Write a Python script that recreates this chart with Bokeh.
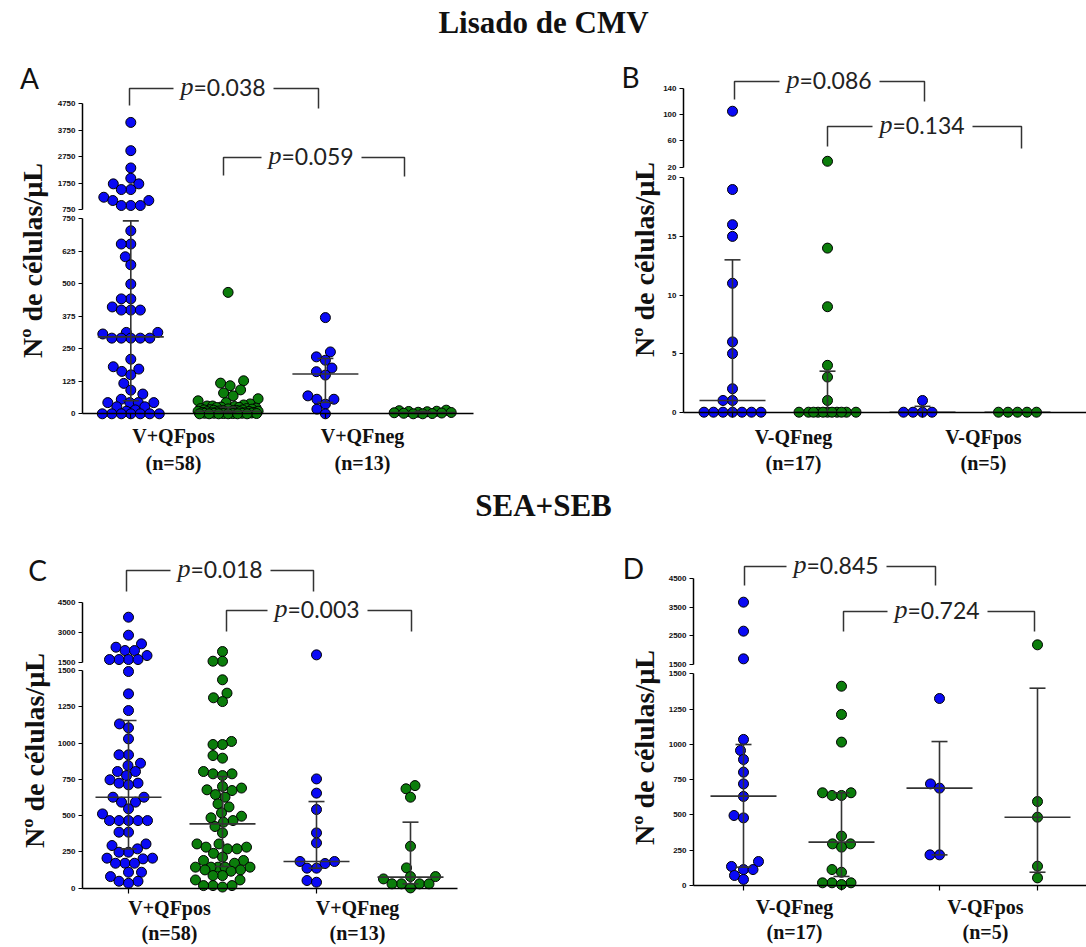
import numpy as np
from bokeh.plotting import figure
from bokeh.models import Range1d, LinearAxis, FixedTicker, Label
from bokeh.embed import file_html
from bokeh.resources import INLINE

# ======================= DATA =======================
section_titles = ["Lisado de CMV", "SEA+SEB"]
y_label = "Nº de células/µL"

# ---- Panel A : Lisado de CMV, V+ ----
A_categories = ["V+QFpos", "V+QFneg"]
A_counts = ["(n=58)", "(n=13)"]
A_qfpos_blue = [4045, 2977, 2323, 1931, 1720, 1720, 1505, 1505, 1214, 1090, 1090, 901, 901, 901,
                704, 653, 653, 604, 573, 499, 442, 442, 411, 399, 399, 399, 313, 313, 307,
                291, 291, 291, 291, 291, 210, 181, 172, 163, 150, 117, 91, 76, 56, 43, 43, 43, 43,
                27, 27, 15, 10, 0, 0, 0, 0, 0, 0, 0]
A_qfpos_green = [467, 127, 118, 108, 92, 80, 69, 58, 50, 43, 38, 34, 30, 30, 28, 26, 25, 24, 22, 20,
                 20, 19, 18, 16, 15, 15, 14, 13, 12, 12, 11, 10, 10, 9, 8, 8, 7, 6, 6, 5,
                 5, 4, 4, 3, 3, 3, 2, 2, 2, 1, 1, 1, 0, 0, 0, 0, 0, 0]
A_qfneg_blue = [370, 238, 219, 206, 176, 162, 149, 69, 56, 56, 37, 18, 0]
A_qfneg_green = [14, 12, 10, 9, 8, 6, 5, 4, 3, 2, 1, 0, 0]
A_median = [296, 10, 153, 5]
A_q1 = [50, 3, 44, 1]
A_q3 = [742, 25, 213, 9]
A_ticks_low = [0, 125, 250, 375, 500, 625, 750]
A_ticks_high = [750, 1750, 2750, 3750, 4750]
A_pvalues = ["0.038", "0.059"]

# ---- Panel B : Lisado de CMV, V- ----
B_categories = ["V-QFneg", "V-QFpos"]
B_counts = ["(n=17)", "(n=5)"]
B_qfneg_blue = [105, 19, 16, 15, 11, 6, 5, 2, 1, 1, 0, 0, 0, 0, 0, 0, 0]
B_qfneg_green = [29, 14, 9, 4, 3, 1, 0, 0, 0, 0, 0, 0, 0, 0, 0, 0, 0]
B_qfpos_blue = [1, 0, 0, 0, 0]
B_qfpos_green = [0, 0, 0, 0, 0]
B_median = [1, 0, 0, 0]
B_q1 = [0, 0, 0, 0]
B_q3 = [13, 3.5, 0.5, 0]
B_ticks_low = [0, 5, 10, 15, 20]
B_ticks_high = [20, 60, 100, 140]
B_pvalues = ["0.086", "0.134"]

# ---- Panel C : SEA+SEB, V+ ----
C_categories = ["V+QFpos", "V+QFneg"]
C_counts = ["(n=58)", "(n=13)"]
C_qfpos_blue = [3750, 2850, 2417, 2250, 2083, 2083, 1833, 1633, 1633, 1633, 1633,
                1493, 1339, 1224, 1132, 1105, 1029, 919, 919, 861, 845, 804, 804, 776, 747,
                724, 724, 712, 627, 627, 593, 593, 547, 512, 466, 466, 466, 466, 466, 386, 386,
                305, 294, 271, 248, 248, 207, 207, 202, 172, 172, 172, 110, 110, 80, 48, 48, 34]
C_qfpos_green = [2033, 1550, 1550,
                 1436, 1344, 1312, 1286, 1011, 990, 990, 914, 896, 804, 788, 788, 776,
                 701, 690, 678, 673, 645, 627, 581, 560, 519, 496, 485, 466, 455, 425, 381,
                 305, 305, 283, 283, 271, 271, 240, 214, 191, 191, 172, 145, 145, 145, 145, 145,
                 126, 126, 117, 87, 87, 57, 57, 18, 18, 18, 8]
C_qfneg_blue = [1867, 753, 655, 542, 381, 312, 184, 184, 170, 138, 138, 53, 41]
C_qfneg_green = [707, 685, 627, 289, 140, 80, 80, 64, 30, 30, 30, 30, 2]
C_median = [627, 443, 184, 76]
C_q1 = [271, 150, 138, 30]
C_q3 = [1155, 770, 597, 455]
C_ticks_low = [0, 250, 500, 750, 1000, 1250, 1500]
C_ticks_high = [1500, 3000, 4500]
C_pvalues = ["0.018", "0.003"]

# ---- Panel D : SEA+SEB, V- ----
D_categories = ["V-QFneg", "V-QFpos"]
D_counts = ["(n=17)", "(n=5)"]
D_qfneg_blue = [3682, 2667, 1698, 1035, 957, 893, 803, 720, 631, 496, 479, 170, 135, 113, 113, 71, 43]
D_qfneg_green = [1412, 1212, 1016, 657, 657, 638, 638, 350, 295, 295, 272, 113, 94, 19, 19, 19, 7]
D_qfpos_blue = [1325, 720, 690, 217, 217]
D_qfpos_green = [2189, 595, 484, 137, 54]
D_median = [633, 307, 690, 484]
D_q1 = [130, 64, 217, 94]
D_q3 = [999, 657, 1020, 1398]
D_ticks_low = [0, 250, 500, 750, 1000, 1250, 1500]
D_ticks_high = [1500, 2500, 3500, 4500]
D_pvalues = ["0.845", "0.724"]

# ======================= LAYOUT / STYLE =======================
W, H = 1086, 947
BLUE, GREEN = "#0a0af5", "#0b7d0b"
LINE = "#333333"

panels = {
    "A": dict(series=[A_qfpos_blue, A_qfpos_green, A_qfneg_blue, A_qfneg_green],
              med=A_median, q1=A_q1, q3=A_q3, tlo=A_ticks_low, thi=A_ticks_high,
              cats=A_categories, counts=A_counts, pv=A_pvalues,
              gx=(130.3, 97.3), yaxis=82, xend=473, lo=(413.3, 218.3), hi=(209.0, 103.3),
              xticks=[1, 3], catx=[173, 362], caty=(435, 462),
              letter=(29, 77), ylab=(32, 260),
              brackets=[(129, 318, 88, 105, 108, 223), (223, 404, 157, 175, 176, 311)]),
    "B": dict(series=[B_qfneg_blue, B_qfneg_green, B_qfpos_blue, B_qfpos_green],
              med=B_median, q1=B_q1, q3=B_q3, tlo=B_ticks_low, thi=B_ticks_high,
              cats=B_categories, counts=B_counts, pv=B_pvalues,
              gx=(732.0, 95.0), yaxis=683, xend=1086, lo=(411.7, 177.3), hi=(166.7, 87.7),
              xticks=[1, 3], catx=[793, 983], caty=(436, 462),
              letter=(630, 76), ylab=(644, 259),
              brackets=[(734, 924, 81, 99, 101, 829), (827, 1021, 126, 146, 148, 922)]),
    "C": dict(series=[C_qfpos_blue, C_qfpos_green, C_qfneg_blue, C_qfneg_green],
              med=C_median, q1=C_q1, q3=C_q3, tlo=C_ticks_low, thi=C_ticks_high,
              cats=C_categories, counts=C_counts, pv=C_pvalues,
              gx=(128.0, 94.0), yaxis=82, xend=457, lo=(887.7, 670.0), hi=(661.7, 601.7),
              xticks=[1, 3], catx=[169, 357], caty=(907, 932),
              letter=(37, 569), ylab=(34, 750),
              brackets=[(126, 313, 570, 591, 591, 220), (226, 411, 610, 631, 631, 317)]),
    "D": dict(series=[D_qfneg_blue, D_qfneg_green, D_qfpos_blue, D_qfpos_green],
              med=D_median, q1=D_q1, q3=D_q3, tlo=D_ticks_low, thi=D_ticks_high,
              cats=D_categories, counts=D_counts, pv=D_pvalues,
              gx=(743.0, 98.0), yaxis=693, xend=1086, lo=(885.0, 673.3), hi=(664.0, 578.3),
              xticks=[1, 2, 3, 4], catx=[794, 985], caty=(906, 931),
              letter=(633, 567), ylab=(644, 747),
              brackets=[(744, 935, 566, 585, 585, 836), (843, 1034, 611, 631, 631, 937)]),
}
colors = [BLUE, GREEN, BLUE, GREEN]


def mk(v0, p0, v1, p1):
    def to_px(v):
        return p0 + (np.asarray(v, float) - v0) * (p1 - p0) / (v1 - v0)

    def to_v(px):
        return v0 + (px - p0) * (v1 - v0) / (p1 - p0)
    return to_px, to_v


def swarm(pys, dmin=9.5, half=30.0):
    pys = np.asarray(pys, float)
    offs = np.zeros(len(pys))
    cands = np.arange(-half, half + 0.01, 0.5)
    cands = cands[np.argsort(np.abs(cands), kind="stable")]
    placed = []
    for i in np.argsort(-pys, kind="stable"):
        y = pys[i]
        if not placed:
            placed.append((0.0, y))
            continue
        P = np.array(placed)
        dy2 = (P[:, 1] - y) ** 2
        best, bestc, bestd = None, 0.0, -1.0
        for c in cands:
            d = np.sqrt(((P[:, 0] - c) ** 2 + dy2).min())
            if d >= dmin:
                best = c
                break
            if d > bestd + 1e-9:
                bestd, bestc = d, c
        if best is None:
            best = bestc
        offs[i] = best
        placed.append((best, y))
    return offs


p = figure(width=W, height=H, x_range=Range1d(0, W), y_range=Range1d(H, 0),
           output_backend="svg", toolbar_location=None,
           x_axis_location=None, y_axis_location=None, min_border=0,
           outline_line_color=None, background_fill_color="white",
           border_fill_color="white")
p.xgrid.visible = False
p.ygrid.visible = False

xr, yr = {}, {}
for key, pan in panels.items():
    gx0, gdx = pan["gx"]
    _, x_v = mk(1, gx0, 2, gx0 + gdx)
    brk = pan["tlo"][-1]
    lo_px, lo_v = mk(0, pan["lo"][0], brk, pan["lo"][1])
    hi_px, hi_v = mk(pan["thi"][0], pan["hi"][0], pan["thi"][-1], pan["hi"][1])
    xr[key] = Range1d(x_v(0), x_v(W))
    yr[key + "lo"] = Range1d(lo_v(H), lo_v(0))
    yr[key + "hi"] = Range1d(hi_v(H), hi_v(0))
    pan.update(x_v=x_v, lo_px=lo_px, hi_px=hi_px, brk=brk)
p.extra_x_ranges = xr
p.extra_y_ranges = yr

for key, pan in panels.items():
    gx0, gdx = pan["gx"]
    brk = pan["brk"]
    x_v = pan["x_v"]
    # ---- dots ----
    for gi, vals in enumerate(pan["series"]):
        g = gi + 1
        v = np.asarray(vals, float)
        is_hi = v > brk
        py = np.where(is_hi, pan["hi_px"](v), pan["lo_px"](v))
        offs = swarm(py)
        xs = g + offs / gdx
        for mask, rn in ((~is_hi, key + "lo"), (is_hi, key + "hi")):
            if mask.any():
                p.scatter(xs[mask], v[mask], size=10, marker="circle",
                          fill_color=colors[gi], line_color="black", line_width=1,
                          x_range_name=key, y_range_name=rn)
    # ---- median + interquartile range ----
    g = np.arange(1, 5)
    med, q1, q3 = map(np.asarray, (pan["med"], pan["q1"], pan["q3"]))
    capw, medw = 8.0 / gdx, 33.0 / gdx
    seg = dict(line_color=LINE, line_width=1.6, x_range_name=key, y_range_name=key + "lo")
    p.segment(g, q1, g, q3, **seg)
    p.segment(g - capw, q1, g + capw, q1, **seg)
    p.segment(g - capw, q3, g + capw, q3, **seg)
    p.segment(g - medw, med, g + medw, med, **seg)

    # ---- axes ----
    ax_style = dict(axis_line_width=1.5, axis_line_color="black",
                    major_tick_line_color="black", major_tick_line_width=1.2,
                    major_tick_out=4, major_tick_in=0,
                    minor_tick_line_color=None,
                    major_label_text_font="Liberation Sans",
                    major_label_text_font_size="8px",
                    major_label_text_font_style="bold",
                    major_label_text_color="#111111",
                    major_label_standoff=3)
    ylo = LinearAxis(x_range_name=key, y_range_name=key + "lo",
                     fixed_location=x_v(pan["yaxis"]), bounds=(0, brk),
                     ticker=FixedTicker(ticks=pan["tlo"]), **ax_style)
    yhi = LinearAxis(x_range_name=key, y_range_name=key + "hi",
                     fixed_location=x_v(pan["yaxis"]),
                     bounds=(pan["thi"][0], pan["thi"][-1]),
                     ticker=FixedTicker(ticks=pan["thi"]), **ax_style)
    p.add_layout(ylo, "left")
    p.add_layout(yhi, "left")
    xax = LinearAxis(x_range_name=key, y_range_name=key + "lo", fixed_location=0,
                     bounds=(x_v(pan["yaxis"]), x_v(pan["xend"])),
                     ticker=FixedTicker(ticks=pan["xticks"]),
                     axis_line_width=1.5, axis_line_color="black",
                     major_tick_line_color="black", major_tick_line_width=1.2,
                     major_tick_out=5, major_tick_in=0, minor_tick_line_color=None,
                     major_label_text_color=None)
    p.add_layout(xax, "below")

    # ---- category labels ----
    for cx, cat, cnt in zip(pan["catx"], pan["cats"], pan["counts"]):
        for txt, yy in ((cat, pan["caty"][0]), (cnt, pan["caty"][1])):
            p.add_layout(Label(x=cx, y=yy, text=txt, text_align="center",
                               text_baseline="middle", text_font="Liberation Serif",
                               text_font_style="bold", text_font_size="20px",
                               text_color="#111111"))
    # ---- panel letter ----
    p.add_layout(Label(x=pan["letter"][0], y=pan["letter"][1], text=key,
                       text_align="center", text_baseline="middle", text_font="Lato",
                       text_font_size="28px", text_color="#111111"))
    # ---- y axis title ----
    p.add_layout(Label(x=pan["ylab"][0], y=pan["ylab"][1], text=y_label, angle=np.pi / 2,
                       text_align="center", text_baseline="middle",
                       text_font="Liberation Serif", text_font_style="bold",
                       text_font_size="28px", text_color="#111111"))
    # ---- p-value brackets ----
    for (xl, xrt, yt, ybl, ybr, tc), pv in zip(pan["brackets"], pan["pv"]):
        gap = 50
        p.multi_line(xs=[[xl, xl, tc - gap], [tc + gap, xrt, xrt]],
                     ys=[[ybl, yt, yt], [yt, yt, ybr]],
                     line_color=LINE, line_width=1.5)
        eqx = tc - 30
        p.add_layout(Label(x=eqx, y=yt - 2, text="p", text_align="right",
                           text_baseline="middle", text_font="Liberation Serif",
                           text_font_style="italic", text_font_size="26px",
                           text_color="#222222"))
        p.add_layout(Label(x=eqx, y=yt - 2, text="=" + pv, text_align="left",
                           text_baseline="middle", text_font="Lato",
                           text_font_size="23px", text_color="#222222"))

# ---- section titles ----
for t, yy in zip(section_titles, (22, 505)):
    p.add_layout(Label(x=543, y=yy, text=t, text_align="center", text_baseline="middle",
                       text_font="Liberation Serif", text_font_style="bold",
                       text_font_size="31px", text_color="#111111"))

open("out.html", "w").write(file_html(p, INLINE))
